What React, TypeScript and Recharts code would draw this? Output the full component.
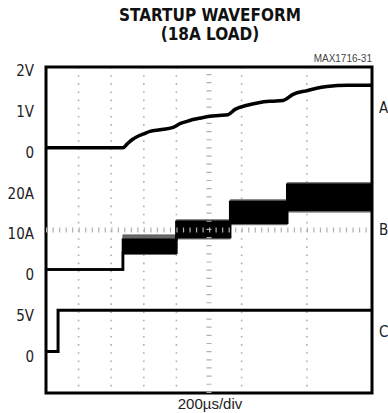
import {
  ComposedChart,
  Line,
  Area,
  XAxis,
  YAxis,
  CartesianGrid,
  ReferenceLine,
  ReferenceArea,
} from "recharts"

// time base: 200us/div, 10 divisions across
const timeTicks = [0, 200, 400, 600, 800, 1000, 1200, 1400, 1600, 1800, 2000]
const divTicks = [0, 1, 2, 3, 4, 5, 6, 7, 8]

// label shown at each vertical division (index = division from bottom)
const leftLabels = ["", "0", "5V", "0", "10A", "20A", "0", "1V", "2V"]
const channelTicks = [7, 4, 1.5]
const channelNames = ["A", "B", "C"]

// A: output voltage, 1V/div, ground at division 6
const aTime = [0, 472, 500, 530, 558, 600, 638, 700, 780, 822, 860, 902, 950, 1006, 1060, 1116, 1160, 1234, 1312, 1380, 1454, 1516, 1600, 1660, 1724, 1850, 2000]
const aVolts = [0.02, 0.02, 0.12, 0.22, 0.29, 0.36, 0.42, 0.46, 0.52, 0.61, 0.66, 0.71, 0.75, 0.79, 0.81, 0.83, 0.96, 1.06, 1.13, 1.16, 1.18, 1.33, 1.42, 1.48, 1.52, 1.55, 1.55]

// B: inductor current, 10A/div, ground at division 3; ripple band per load step
const bTime = [0, 472, 800, 1130, 1480, 2000]
const bLow = [0.3, 4.4, 8.3, 11.8, 15.0, 15.0]
const bHigh = [0.3, 7.6, 12.0, 16.9, 21.1, 21.1]
const bFuzzLow = [0.3, 4.0, 7.8, 11.3, 14.4, 14.4]
const bFuzzHigh = [0.3, 8.8, 12.5, 17.4, 21.6, 21.6]

// C: 5V/div, ground at division 1
const cTime = [0, 74, 2000]
const cVolts = [0.1, 5.15, 5.15]

const A_ZERO = 6
const A_PER_DIV = 1
const B_ZERO = 3
const B_PER_DIV = 10
const C_ZERO = 1
const C_PER_DIV = 5

const aData = aTime.map((t, i) => ({ t, v: A_ZERO + aVolts[i] / A_PER_DIV }))
const bData = bTime.map((t, i) => ({
  t,
  band: [B_ZERO + bLow[i] / B_PER_DIV, B_ZERO + bHigh[i] / B_PER_DIV],
  fuzz: [B_ZERO + bFuzzLow[i] / B_PER_DIV, B_ZERO + bFuzzHigh[i] / B_PER_DIV],
}))
const cData = cTime.map((t, i) => ({ t, v: C_ZERO + cVolts[i] / C_PER_DIV }))

const font = "'Liberation Sans', Arial, sans-serif"
const narrow = "'DejaVu Sans Condensed', Arial, sans-serif"
const gridColor = "#b0b0b0"

export default function App() {
  return (
    <div
      style={{
        position: "absolute",
        left: 0,
        top: 0,
        width: 388,
        height: 413,
        background: "#fff",
        fontFamily: font,
        overflow: "hidden",
      }}
    >
      <div
        style={{
          position: "absolute",
          left: 0,
          width: 420,
          top: 6,
          textAlign: "center",
          fontWeight: "bold",
          fontSize: 17,
          lineHeight: "19px",
          fontFamily: narrow,
          color: "#111",
        }}
      >
        STARTUP WAVEFORM
        <br />
        (18A LOAD)
      </div>
      <div
        style={{
          position: "absolute",
          right: 16,
          top: 53,
          fontSize: 10,
          color: "#444",
        }}
      >
        MAX1716-31
      </div>
      <div
        style={{
          position: "absolute",
          left: 0,
          width: 420,
          top: 396,
          textAlign: "center",
          fontSize: 15,
          lineHeight: "16px",
          color: "#222",
        }}
      >
        200µs/div
      </div>
      <ComposedChart
        width={388}
        height={413}
        margin={{ top: 67, right: 0, bottom: 20, left: 0 }}
      >
        <CartesianGrid
          horizontal={false}
          stroke={gridColor}
          strokeWidth={1.6}
          strokeDasharray="1.6 6.55"
        />
        <CartesianGrid
          vertical={false}
          stroke={gridColor}
          strokeWidth={1.6}
          strokeDasharray="2.5 4.02"
        />
        <XAxis
          type="number"
          dataKey="t"
          domain={[0, 2000]}
          ticks={timeTicks}
          hide
        />
        <YAxis
          yAxisId="left"
          type="number"
          domain={[0, 8]}
          ticks={divTicks}
          width={46}
          axisLine={false}
          tickLine={false}
          tickMargin={6}
          interval={0}
          allowDataOverflow
          tickFormatter={(v: number) => leftLabels[v] ?? ""}
          tick={{ fontSize: 15, fill: "#222", fontFamily: narrow, dy: 4 }}
        />
        <YAxis
          yAxisId="right"
          orientation="right"
          type="number"
          domain={[0, 8]}
          ticks={channelTicks}
          width={16}
          axisLine={false}
          tickLine={false}
          tickMargin={1}
          interval={0}
          allowDataOverflow
          tickFormatter={(v: number) => channelNames[channelTicks.indexOf(v)] ?? ""}
          tick={{ fontSize: 15, fill: "#222", fontFamily: narrow }}
        />
        {/* centre graticule with minor tick marks */}
        <ReferenceLine
          yAxisId="left"
          x={1000}
          stroke={gridColor}
          strokeWidth={5}
          strokeDasharray="1.2 6.95"
        />
        <ReferenceLine
          yAxisId="left"
          y={4}
          stroke={gridColor}
          strokeWidth={5}
          strokeDasharray="1.2 5.32"
        />
        <Area
          yAxisId="left"
          data={bData}
          dataKey="fuzz"
          type="stepAfter"
          stroke="#666"
          strokeWidth={1}
          fill="#666"
          fillOpacity={1}
          isAnimationActive={false}
        />
        <Area
          yAxisId="left"
          data={bData}
          dataKey="band"
          type="stepAfter"
          stroke="#000"
          strokeWidth={2.5}
          fill="#000"
          fillOpacity={1}
          isAnimationActive={false}
        />
        <Line
          yAxisId="left"
          data={aData}
          dataKey="v"
          type="monotone"
          stroke="#000"
          strokeWidth={3.5}
          dot={false}
          isAnimationActive={false}
        />
        <Line
          yAxisId="right"
          data={cData}
          dataKey="v"
          type="stepAfter"
          stroke="#000"
          strokeWidth={3}
          dot={false}
          isAnimationActive={false}
        />
        <ReferenceArea
          yAxisId="left"
          x1={0}
          x2={2000}
          y1={0}
          y2={8}
          fill="none"
          stroke="#000"
          strokeWidth={3}
        />
      </ComposedChart>
    </div>
  )
}
